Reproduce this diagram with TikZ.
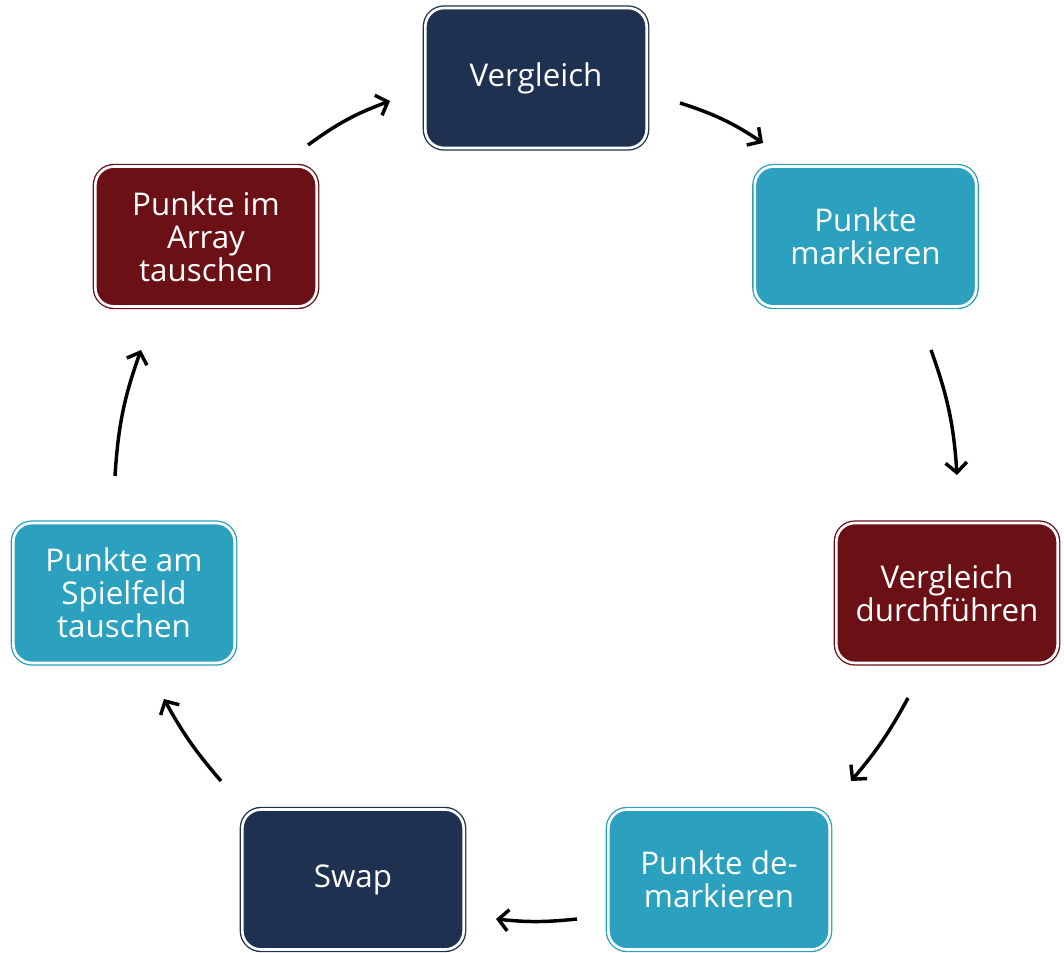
\documentclass[tikz,border=0pt]{standalone}
\usepackage{fontspec}
\setmainfont{Open Sans}
\usetikzlibrary{arrows.meta}

\definecolor{navyblk}{RGB}{31,49,80}
\definecolor{tealblk}{RGB}{44,161,191}
\definecolor{redblk}{RGB}{107,16,21}

\tikzset{every picture/.style={line width=0.75pt}}
\tikzset{
  stepbox/.style={draw=#1, fill=#1, double=white, double distance=2pt, line width=1pt,
    rounded corners=14pt, minimum width=166pt, minimum height=105pt, text=white,
    align=center, font=\fontsize{23.5}{24.75}\selectfont, inner sep=0pt},
  flow/.style={line width=2.6pt, -{Straight Barb[length=7.5pt,width=16pt,line width=2.6pt]}}
}

\begin{document}
\begin{tikzpicture}[x=0.75pt,y=0.75pt,yscale=-1,xscale=1]
  \useasboundingbox (0,0) rectangle (1064,953);

  %Boxes
  \node [stepbox=navyblk] (vgl) at (536,78) {Vergleich};
  \node [stepbox=tealblk] (mark) at (865.5,236.5) {Punkte\\markieren};
  \node [stepbox=redblk] (durch) at (947,593) {Vergleich\\durchführen};
  \node [stepbox=tealblk] (demark) at (719,879.5) {Punkte de-\\markieren};
  \node [stepbox=navyblk] (swap) at (353,879.5) {Swap};
  \node [stepbox=tealblk] (feld) at (124,593) {Punkte am\\Spielfeld\\tauschen};
  \node [stepbox=redblk] (arr) at (206,236.5) {Punkte im\\Array\\tauschen};

  %Arrow ends
  \coordinate (vgl-out) at (680,103);
  \coordinate (mark-in) at (763,143);
  \coordinate (mark-out) at (931,350);
  \coordinate (durch-in) at (957,475);
  \coordinate (durch-out) at (908,698);
  \coordinate (demark-in) at (851,781);
  \coordinate (demark-out) at (577,919);
  \coordinate (swap-in) at (496,919);
  \coordinate (swap-out) at (221,781);
  \coordinate (feld-in) at (164,699);
  \coordinate (feld-out) at (115,476);
  \coordinate (arr-in) at (141,350);
  \coordinate (arr-out) at (308,145);
  \coordinate (vgl-in) at (390,101);

  %Arrows
  \draw [flow] (vgl-out) to[bend right=8] (mark-in);
  \draw [flow] (mark-out) to[bend right=8] (durch-in);
  \draw [flow] (durch-out) to[bend right=6] (demark-in);
  \draw [flow] (demark-out) to[bend right=6] (swap-in);
  \draw [flow] (swap-out) to[bend right=6] (feld-in);
  \draw [flow] (feld-out) to[bend right=8] (arr-in);
  \draw [flow] (arr-out) to[bend right=8] (vgl-in);

\end{tikzpicture}
\end{document}
